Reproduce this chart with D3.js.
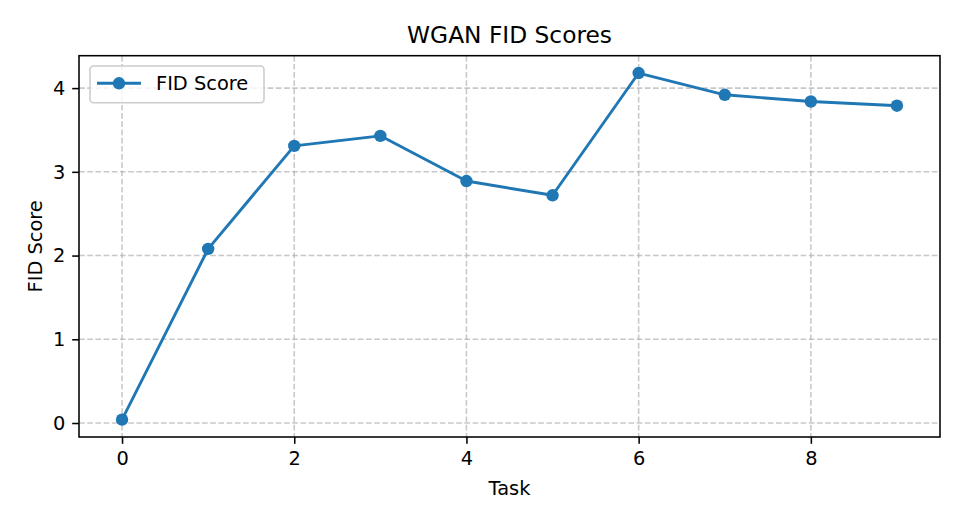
<!DOCTYPE html>
<html>
<head>
<meta charset="utf-8">
<script src="https://cdn.jsdelivr.net/npm/d3@7"></script>
<style>
  html, body { margin: 0; padding: 0; background: #fff; }
  svg { display: block; font-family: "DejaVu Sans", sans-serif; }
</style>
</head>
<body>
<svg id="chart" width="963" height="525"></svg>
<script>
const tasks = [0, 1, 2, 3, 4, 5, 6, 7, 8, 9];
const fidScores = [0.04, 2.08, 3.31, 3.43, 2.89, 2.72, 4.18, 3.92, 3.84, 3.79];
const xTicks = [0, 2, 4, 6, 8];
const yTicks = [0, 1, 2, 3, 4];
const title = "WGAN FID Scores";
const xLabel = "Task";
const yLabel = "FID Score";
const seriesName = "FID Score";

const svg = d3.select("#chart");
const m = { left: 79, right: 940, top: 55.7, bottom: 437 };
const color = "#1f77b4";
const fs = 19.4;

const x = d3.scaleLinear().domain([-0.5, 9.5]).range([m.left, m.right]);
const yMin = d3.min(fidScores), yMax = d3.max(fidScores), pad = (yMax - yMin) * 0.05;
const y = d3.scaleLinear().domain([yMin - pad, yMax + pad]).range([m.bottom, m.top]);

// grid
const grid = svg.append("g");
grid.selectAll("line.gx").data(xTicks).join("line")
  .attr("x1", d => x(d)).attr("x2", d => x(d))
  .attr("y1", m.top).attr("y2", m.bottom);
grid.selectAll("line.gy").data(yTicks).join("line")
  .attr("x1", m.left).attr("x2", m.right)
  .attr("y1", d => y(d)).attr("y2", d => y(d));
grid.selectAll("line")
  .attr("stroke", "#b0b0b0").attr("stroke-opacity", 0.7)
  .attr("stroke-width", 1.55).attr("stroke-dasharray", "5.7,2.5");

// axes
const xAxis = svg.append("g").attr("transform", `translate(0,${m.bottom})`)
  .call(d3.axisBottom(x).tickValues(xTicks).tickFormat(d3.format("d")).tickSize(6.8).tickPadding(6.8));
const yAxis = svg.append("g").attr("transform", `translate(${m.left},0)`)
  .call(d3.axisLeft(y).tickValues(yTicks).tickFormat(d3.format("d")).tickSize(6.8).tickPadding(6.8));
[xAxis, yAxis].forEach(a => {
  a.select(".domain").remove();
  a.selectAll(".tick line").attr("stroke", "#000").attr("stroke-width", 1.55);
  a.selectAll(".tick text").attr("fill", "#000").attr("font-size", fs)
    .attr("font-family", "DejaVu Sans");
});
xAxis.selectAll(".tick text").attr("dy", "0.76em");

// frame
svg.append("rect").attr("x", m.left).attr("y", m.top)
  .attr("width", m.right - m.left).attr("height", m.bottom - m.top)
  .attr("fill", "none").attr("stroke", "#000").attr("stroke-width", 1.55);

// line
const line = d3.line().x((d, i) => x(tasks[i])).y(d => y(d));
svg.append("path").datum(fidScores).attr("d", line)
  .attr("fill", "none").attr("stroke", color).attr("stroke-width", 2.9)
  .attr("stroke-linejoin", "round").attr("stroke-linecap", "square");
svg.selectAll("circle.pt").data(fidScores).join("circle")
  .attr("class", "pt")
  .attr("cx", (d, i) => x(tasks[i])).attr("cy", d => y(d))
  .attr("r", 6.2).attr("fill", color);

// title & labels
svg.append("text").attr("x", (m.left + m.right) / 2).attr("y", 43.3)
  .attr("text-anchor", "middle").attr("font-size", 23.3).text(title);
svg.append("text").attr("x", (m.left + m.right) / 2).attr("y", 495)
  .attr("text-anchor", "middle").attr("font-size", fs).text(xLabel);
svg.append("text").attr("transform", `translate(42,${(m.top + m.bottom) / 2}) rotate(-90)`)
  .attr("text-anchor", "middle").attr("font-size", fs).text(yLabel);

// legend
const lg = svg.append("g");
lg.append("rect").attr("x", 90).attr("y", 66).attr("width", 174).attr("height", 36.7)
  .attr("rx", 3.5).attr("fill", "#fff").attr("fill-opacity", 0.8)
  .attr("stroke", "#cccccc").attr("stroke-width", 1.55);
lg.append("line").attr("x1", 97).attr("x2", 141).attr("y1", 83.3).attr("y2", 83.3)
  .attr("stroke", color).attr("stroke-width", 2.9);
lg.append("circle").attr("cx", 119).attr("cy", 83.3).attr("r", 6.2).attr("fill", color);
lg.append("text").attr("x", 156).attr("y", 90.3).attr("font-size", fs).text(seriesName);
</script>
</body>
</html>
